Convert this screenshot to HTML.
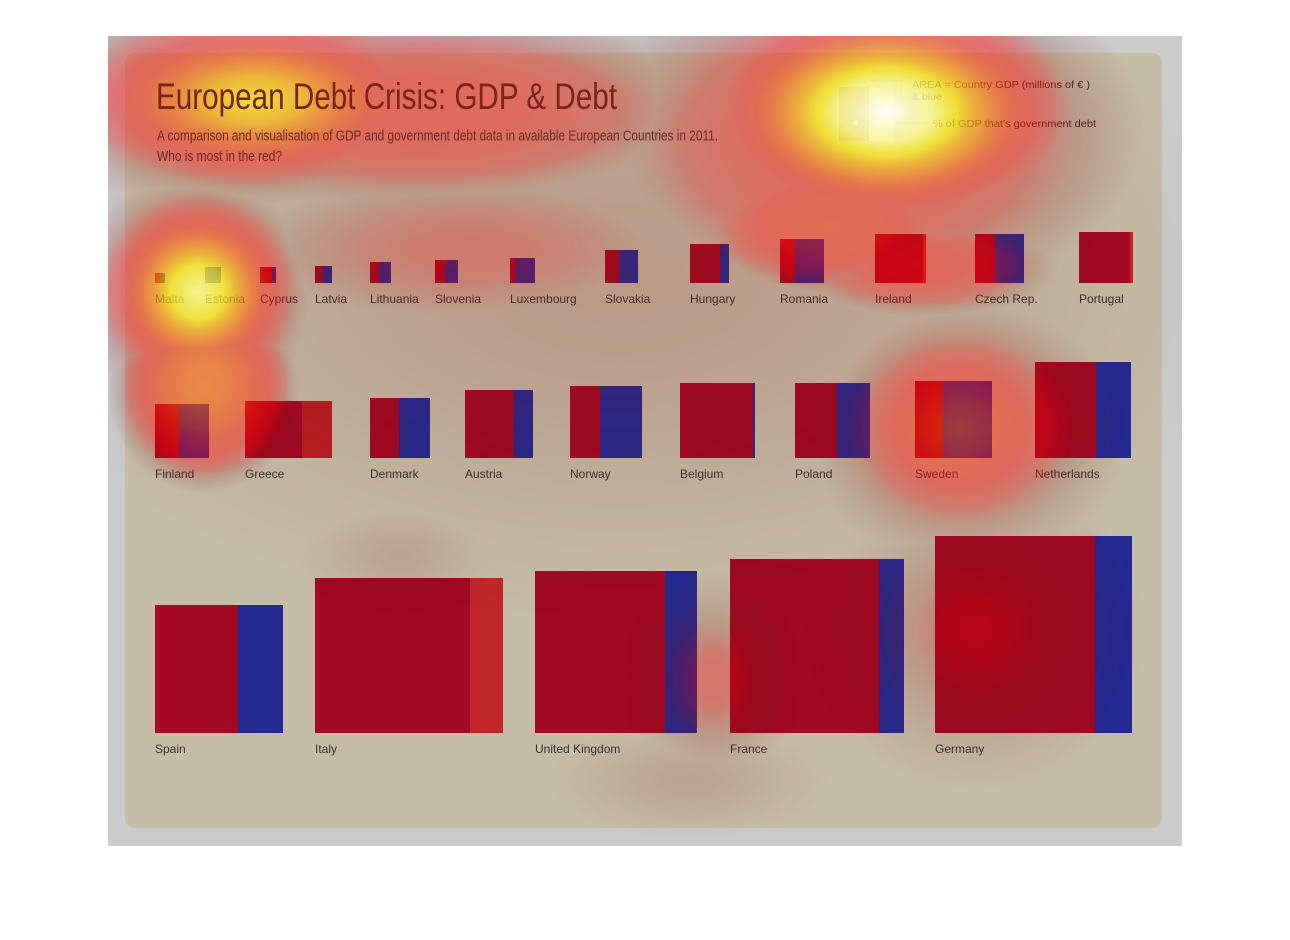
<!DOCTYPE html>
<html><head><meta charset="utf-8"><style>html,body{margin:0;padding:0;background:#fff}svg{display:block}</style></head>
<body>
<svg width="1290" height="940" viewBox="0 0 1290 940" xmlns="http://www.w3.org/2000/svg">
<defs>
<clipPath id="fc"><rect x="108" y="36" width="1074" height="810"/></clipPath>
<filter id="heat" filterUnits="userSpaceOnUse" x="0" y="0" width="1290" height="940" color-interpolation-filters="sRGB">
<feColorMatrix type="matrix" values="1 0 0 0 0 1 0 0 0 0 1 0 0 0 0 1 0 0 0 0"/>
<feComponentTransfer>
<feFuncR type="table" tableValues="0.5 0.47 0.59 0.9 1 1 1 1 1 1 1"/>
<feFuncG type="table" tableValues="0 0.06 0.04 0 0 0.12 0.35 0.63 0.93 1 1"/>
<feFuncB type="table" tableValues="0 0.04 0.02 0 0 0 0 0 0.05 0.55 1"/>
<feFuncA type="table" tableValues="0 0.1 0.2 0.35 0.44 0.5 0.58 0.64 0.72 0.82 0.93"/>
</feComponentTransfer>
</filter>
<radialGradient id="g100"><stop offset="0" stop-color="rgb(255,255,255)"/><stop offset=".2" stop-color="rgb(230,230,230)"/><stop offset=".4" stop-color="rgb(173,173,173)"/><stop offset=".6" stop-color="rgb(107,107,107)"/><stop offset=".8" stop-color="rgb(46,46,46)"/><stop offset="1" stop-color="rgb(0,0,0)"/></radialGradient>
<radialGradient id="g90"><stop offset="0" stop-color="rgb(230,230,230)"/><stop offset=".2" stop-color="rgb(207,207,207)"/><stop offset=".4" stop-color="rgb(156,156,156)"/><stop offset=".6" stop-color="rgb(96,96,96)"/><stop offset=".8" stop-color="rgb(41,41,41)"/><stop offset="1" stop-color="rgb(0,0,0)"/></radialGradient>
<radialGradient id="g80"><stop offset="0" stop-color="rgb(204,204,204)"/><stop offset=".2" stop-color="rgb(184,184,184)"/><stop offset=".4" stop-color="rgb(139,139,139)"/><stop offset=".6" stop-color="rgb(86,86,86)"/><stop offset=".8" stop-color="rgb(37,37,37)"/><stop offset="1" stop-color="rgb(0,0,0)"/></radialGradient>
<radialGradient id="g58"><stop offset="0" stop-color="rgb(148,148,148)"/><stop offset=".2" stop-color="rgb(133,133,133)"/><stop offset=".4" stop-color="rgb(101,101,101)"/><stop offset=".6" stop-color="rgb(62,62,62)"/><stop offset=".8" stop-color="rgb(27,27,27)"/><stop offset="1" stop-color="rgb(0,0,0)"/></radialGradient>
<radialGradient id="g34"><stop offset="0" stop-color="rgb(87,87,87)"/><stop offset=".2" stop-color="rgb(78,78,78)"/><stop offset=".4" stop-color="rgb(59,59,59)"/><stop offset=".6" stop-color="rgb(36,36,36)"/><stop offset=".8" stop-color="rgb(16,16,16)"/><stop offset="1" stop-color="rgb(0,0,0)"/></radialGradient>
<radialGradient id="g30"><stop offset="0" stop-color="rgb(77,77,77)"/><stop offset=".2" stop-color="rgb(69,69,69)"/><stop offset=".4" stop-color="rgb(52,52,52)"/><stop offset=".6" stop-color="rgb(32,32,32)"/><stop offset=".8" stop-color="rgb(14,14,14)"/><stop offset="1" stop-color="rgb(0,0,0)"/></radialGradient>
<radialGradient id="g20"><stop offset="0" stop-color="rgb(51,51,51)"/><stop offset=".2" stop-color="rgb(46,46,46)"/><stop offset=".4" stop-color="rgb(35,35,35)"/><stop offset=".6" stop-color="rgb(21,21,21)"/><stop offset=".8" stop-color="rgb(9,9,9)"/><stop offset="1" stop-color="rgb(0,0,0)"/></radialGradient>
<radialGradient id="g15"><stop offset="0" stop-color="rgb(38,38,38)"/><stop offset=".2" stop-color="rgb(34,34,34)"/><stop offset=".4" stop-color="rgb(26,26,26)"/><stop offset=".6" stop-color="rgb(16,16,16)"/><stop offset=".8" stop-color="rgb(7,7,7)"/><stop offset="1" stop-color="rgb(0,0,0)"/></radialGradient>
<radialGradient id="f62"><stop offset="0" stop-color="rgb(158,158,158)"/><stop offset=".2" stop-color="rgb(153,153,153)"/><stop offset=".4" stop-color="rgb(139,139,139)"/><stop offset=".6" stop-color="rgb(111,111,111)"/><stop offset=".8" stop-color="rgb(63,63,63)"/><stop offset="1" stop-color="rgb(0,0,0)"/></radialGradient>
<radialGradient id="f50"><stop offset="0" stop-color="rgb(128,128,128)"/><stop offset=".2" stop-color="rgb(124,124,124)"/><stop offset=".4" stop-color="rgb(112,112,112)"/><stop offset=".6" stop-color="rgb(89,89,89)"/><stop offset=".8" stop-color="rgb(51,51,51)"/><stop offset="1" stop-color="rgb(0,0,0)"/></radialGradient>
<radialGradient id="f42"><stop offset="0" stop-color="rgb(107,107,107)"/><stop offset=".2" stop-color="rgb(104,104,104)"/><stop offset=".4" stop-color="rgb(94,94,94)"/><stop offset=".6" stop-color="rgb(75,75,75)"/><stop offset=".8" stop-color="rgb(43,43,43)"/><stop offset="1" stop-color="rgb(0,0,0)"/></radialGradient>
<radialGradient id="f30"><stop offset="0" stop-color="rgb(77,77,77)"/><stop offset=".2" stop-color="rgb(74,74,74)"/><stop offset=".4" stop-color="rgb(67,67,67)"/><stop offset=".6" stop-color="rgb(54,54,54)"/><stop offset=".8" stop-color="rgb(31,31,31)"/><stop offset="1" stop-color="rgb(0,0,0)"/></radialGradient>
</defs>

<rect x="0" y="0" width="1290" height="940" fill="#ffffff"/>
<rect x="108" y="36" width="1074" height="810" fill="#cbcbcb"/>
<rect x="125" y="53" width="1037" height="775" rx="10" ry="10" fill="#c6bda8"/>

<!-- legend graphic -->
<rect x="839" y="87" width="30" height="54" fill="#b98a78"/>
<rect x="869" y="87" width="24" height="54" fill="#cfcdbf"/>
<polyline points="873,80 901,80 901,102" fill="none" stroke="#a89c90" stroke-width="1"/>
<polygon points="869,80 875,77.5 875,82.5" fill="#a89c90"/>
<line x1="893" y1="123" x2="928" y2="123" stroke="#a89c90" stroke-width="1"/>
<circle cx="855" cy="123" r="2.5" fill="#e8e2c8"/>
<g font-family="'Liberation Sans', sans-serif" font-size="10.5" fill="#3e2c2a">
<text x="912" y="88" textLength="178" lengthAdjust="spacingAndGlyphs">AREA = Country GDP (millions of  € )</text>
<text x="912" y="100">&amp; blue</text>
<text x="933" y="127" textLength="163" lengthAdjust="spacingAndGlyphs">% of GDP that’s government debt</text>
</g>

<!-- boxes row 1 -->
<g>
<rect x="155" y="273" width="10" height="10" fill="#a10a24"/><rect x="161" y="273" width="4" height="10" fill="#232b93"/>
<rect x="205" y="267" width="16" height="16" fill="#232b93"/><rect x="205" y="267" width="1" height="16" fill="#a10a24"/>
<rect x="260" y="267" width="16" height="16" fill="#a10a24"/><rect x="272" y="267" width="4" height="16" fill="#232b93"/>
<rect x="315" y="266" width="17" height="17" fill="#a10a24"/><rect x="323" y="266" width="9" height="17" fill="#232b93"/>
<rect x="370" y="262" width="21" height="21" fill="#a10a24"/><rect x="379" y="262" width="12" height="21" fill="#232b93"/>
<rect x="435" y="260" width="23" height="23" fill="#a10a24"/><rect x="445" y="260" width="13" height="23" fill="#232b93"/>
<rect x="510" y="258" width="25" height="25" fill="#a10a24"/><rect x="515" y="258" width="20" height="25" fill="#232b93"/>
<rect x="605" y="250" width="33" height="33" fill="#a10a24"/><rect x="619" y="250" width="19" height="33" fill="#232b93"/>
<rect x="690" y="244" width="39" height="39" fill="#a10a24"/><rect x="720" y="244" width="9" height="39" fill="#232b93"/>
<rect x="780" y="239" width="44" height="44" fill="#a10a24"/><rect x="795" y="239" width="29" height="44" fill="#232b93"/>
<rect x="875" y="234" width="51" height="49" fill="#a10a24"/><rect x="923" y="234" width="3" height="49" fill="#d42020"/>
<rect x="975" y="234" width="49" height="49" fill="#a10a24"/><rect x="995" y="234" width="29" height="49" fill="#232b93"/>
<rect x="1079" y="232" width="54" height="51" fill="#a10a24"/><rect x="1130" y="232" width="3" height="51" fill="#d42020"/>
</g>
<!-- boxes row 2 -->
<g>
<rect x="155" y="404" width="54" height="54" fill="#a10a24"/><rect x="179" y="404" width="30" height="54" fill="#232b93"/>
<rect x="245" y="401" width="87" height="57" fill="#a10a24"/><rect x="302" y="401" width="30" height="57" fill="#b81f24"/>
<rect x="370" y="398" width="60" height="60" fill="#a10a24"/><rect x="399" y="398" width="31" height="60" fill="#232b93"/>
<rect x="465" y="390" width="68" height="68" fill="#a10a24"/><rect x="514" y="390" width="19" height="68" fill="#232b93"/>
<rect x="570" y="386" width="72" height="72" fill="#a10a24"/><rect x="600" y="386" width="42" height="72" fill="#232b93"/>
<rect x="680" y="383" width="75" height="75" fill="#a10a24"/><rect x="753" y="383" width="2" height="75" fill="#232b93"/>
<rect x="795" y="383" width="75" height="75" fill="#a10a24"/><rect x="837" y="383" width="33" height="75" fill="#232b93"/>
<rect x="915" y="381" width="77" height="77" fill="#a10a24"/><rect x="943" y="381" width="49" height="77" fill="#232b93"/>
<rect x="1035" y="362" width="96" height="96" fill="#a10a24"/><rect x="1096" y="362" width="35" height="96" fill="#232b93"/>
</g>
<!-- boxes row 3 -->
<g>
<rect x="155" y="605" width="128" height="128" fill="#a50a25"/><rect x="238" y="605" width="45" height="128" fill="#232b93"/>
<rect x="315" y="578" width="188" height="155" fill="#a00a23"/><rect x="470" y="578" width="33" height="155" fill="#c0262a"/>
<rect x="535" y="571" width="162" height="162" fill="#a00a23"/><rect x="665" y="571" width="32" height="162" fill="#232b93"/>
<rect x="730" y="559" width="174" height="174" fill="#a00a23"/><rect x="879" y="559" width="25" height="174" fill="#232b93"/>
<rect x="935" y="536" width="197" height="197" fill="#a00a23"/><rect x="1095" y="536" width="37" height="197" fill="#232b93"/>
</g>

<!-- labels -->
<g font-family="'Liberation Sans', sans-serif" font-size="12" fill="#3b2f2d">
<text x="155" y="303">Malta</text>
<text x="205" y="303">Estonia</text>
<text x="260" y="303">Cyprus</text>
<text x="315" y="303">Latvia</text>
<text x="370" y="303">Lithuania</text>
<text x="435" y="303">Slovenia</text>
<text x="510" y="303">Luxembourg</text>
<text x="605" y="303">Slovakia</text>
<text x="690" y="303">Hungary</text>
<text x="780" y="303">Romania</text>
<text x="875" y="303">Ireland</text>
<text x="975" y="303">Czech Rep.</text>
<text x="1079" y="303">Portugal</text>
<text x="155" y="478">Finland</text>
<text x="245" y="478">Greece</text>
<text x="370" y="478">Denmark</text>
<text x="465" y="478">Austria</text>
<text x="570" y="478">Norway</text>
<text x="680" y="478">Belgium</text>
<text x="795" y="478">Poland</text>
<text x="915" y="478">Sweden</text>
<text x="1035" y="478">Netherlands</text>
<text x="155" y="753">Spain</text>
<text x="315" y="753">Italy</text>
<text x="535" y="753">United Kingdom</text>
<text x="730" y="753">France</text>
<text x="935" y="753">Germany</text>
</g>

<!-- heat overlay -->
<g clip-path="url(#fc)">
<g filter="url(#heat)">
<rect x="0" y="0" width="1290" height="940" fill="#000"/>
<g>
<ellipse cx="620" cy="280" rx="640" ry="340" fill="url(#g20)" style="mix-blend-mode:lighten"/>
<ellipse cx="400" cy="555" rx="110" ry="60" fill="url(#g15)" style="mix-blend-mode:lighten"/>
<ellipse cx="690" cy="780" rx="140" ry="60" fill="url(#g15)" style="mix-blend-mode:lighten"/>
<ellipse cx="712" cy="680" rx="90" ry="120" fill="url(#g34)" style="mix-blend-mode:lighten"/>
<ellipse cx="975" cy="630" rx="170" ry="160" fill="url(#g30)" style="mix-blend-mode:lighten"/>
<ellipse cx="960" cy="428" rx="170" ry="150" fill="url(#g58)" style="mix-blend-mode:lighten"/>
<ellipse cx="470" cy="250" rx="260" ry="90" fill="url(#f30)" style="mix-blend-mode:lighten"/>
<ellipse cx="920" cy="265" rx="150" ry="60" fill="url(#f42)" style="mix-blend-mode:lighten"/>
<ellipse cx="830" cy="225" rx="150" ry="80" fill="url(#f50)" style="mix-blend-mode:lighten"/>
<ellipse cx="860" cy="140" rx="290" ry="190" fill="url(#f42)" style="mix-blend-mode:lighten"/>
<ellipse cx="420" cy="110" rx="330" ry="110" fill="url(#f42)" style="mix-blend-mode:lighten"/>
<ellipse cx="255" cy="100" rx="250" ry="120" fill="url(#g80)" style="mix-blend-mode:lighten"/>
<ellipse cx="205" cy="385" rx="100" ry="110" fill="url(#f62)" style="mix-blend-mode:lighten"/>
<ellipse cx="198" cy="292" rx="130" ry="130" fill="url(#g90)" style="mix-blend-mode:lighten"/>
<ellipse cx="886" cy="112" rx="238" ry="150" fill="url(#g100)" style="mix-blend-mode:lighten"/>
</g>
</g>
</g>

<!-- title text on top -->
<text x="156" y="109" font-family="'Liberation Sans Narrow', 'Liberation Sans', sans-serif" font-size="37" fill="#7a2318" textLength="461" lengthAdjust="spacingAndGlyphs">European Debt Crisis: GDP &amp; Debt</text>
<g font-family="'Liberation Sans Narrow', 'Liberation Sans', sans-serif" font-size="14.5" fill="#6d2820">
<text x="157" y="140.5" textLength="561" lengthAdjust="spacingAndGlyphs">A comparison and visualisation of GDP and government debt data in available European Countries in 2011.</text>
<text x="157" y="161" textLength="125" lengthAdjust="spacingAndGlyphs">Who is most in the red?</text>
</g>
</svg>
</body></html>
